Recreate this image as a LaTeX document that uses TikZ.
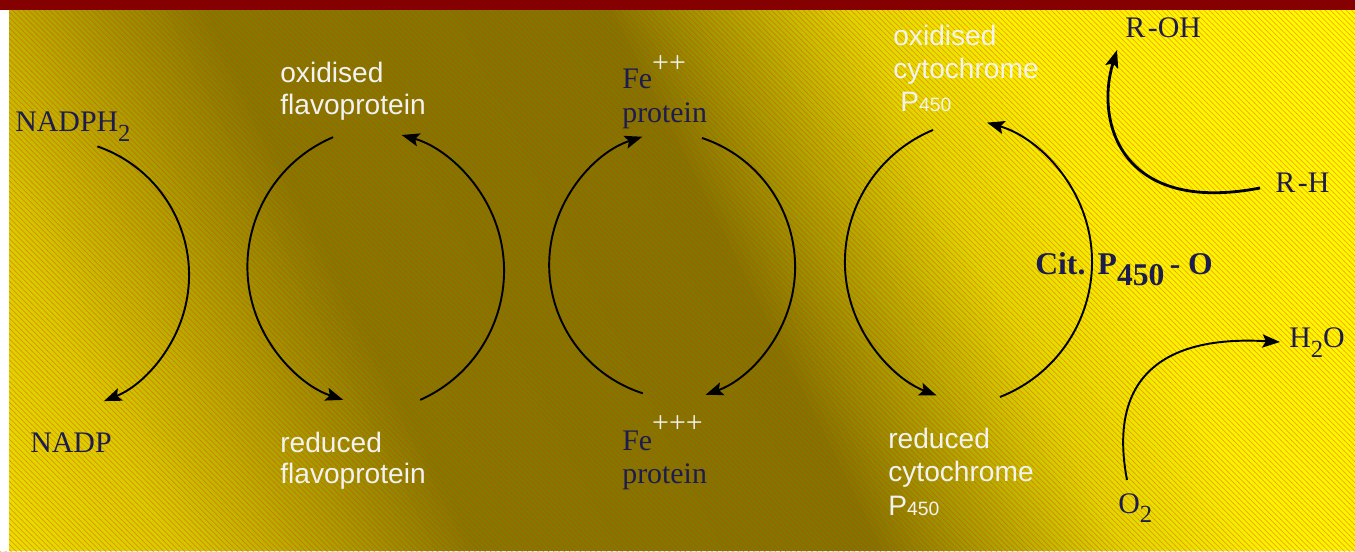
\documentclass[tikz,border=0pt]{standalone}
\usepackage{fontspec}
\setmainfont{Liberation Serif}
\newfontfamily\sansf{Liberation Sans}
\usetikzlibrary{arrows.meta,patterns}
\definecolor{txtnavy}{HTML}{1C1C50}
\definecolor{labwhite}{HTML}{F2F2F2}
\definecolor{barred}{HTML}{850000}
\definecolor{gA}{HTML}{E8E200}
\definecolor{gB}{HTML}{D4CC00}
\definecolor{gC}{HTML}{ACA400}
\definecolor{gD}{HTML}{807C00}
\definecolor{gE}{HTML}{7C7800}
\definecolor{gF}{HTML}{A8A400}
\definecolor{gG}{HTML}{DCD800}
\definecolor{gH}{HTML}{F6F400}
\definecolor{gI}{HTML}{FFFF00}
\newcommand\lowsub[1]{\raisebox{-5.5pt}{\fontsize{14}{14}\selectfont #1}}
\newcommand\smallnum[1]{{\fontsize{11}{11}\selectfont #1}}
\tikzset{
  arr/.style={line width=1.1pt,-{Stealth[length=10pt,width=7.5pt,inset=2pt]}},
  seriflab/.style={font=\fontsize{17}{19.5}\selectfont,text=txtnavy,inner sep=0pt,anchor=base west,align=left},
  sanslab/.style={font=\sansf\fontsize{16}{19}\selectfont,text=labwhite,inner sep=0pt,anchor=base west,align=left},
  boldlab/.style={font=\bfseries\fontsize{18}{20}\selectfont,text=txtnavy,inner sep=0pt,anchor=base west}
}
\begin{document}
\begin{tikzpicture}[x=0.02cm,y=0.02cm]
\useasboundingbox (0,0) rectangle (1355,551);
% background gradient
\begin{scope}
\clip (0,0) rectangle (1355,551);
\foreach \ua/\ub/\ca/\cb in {-280/-100/gA/gB,-100/50/gB/gC,50/200/gC/gD,200/600/gD/gE,600/720/gE/gF,720/850/gF/gG,850/1000/gG/gH,1000/1360/gH/gI}{
  \pgfmathtruncatemacro\nn{max(1,round((\ub-\ua)/8))}
  \pgfmathsetmacro\dd{(\ub-\ua)/\nn}
  \foreach \k in {1,...,\nn}{
    \pgfmathsetmacro\uone{\ua+(\k-1)*\dd}
    \pgfmathsetmacro\utwo{\ua+\k*\dd+1.5}
    \pgfmathsetmacro\p{100*(\k-0.5)/\nn}
    \fill[\cb!\p!\ca] (\uone,551) -- (\uone+275.5,0) -- (\utwo+275.5,0) -- (\utwo,551) -- cycle;
  }
}
\fill[pattern=north west lines,pattern color=red!70!orange,opacity=0.38] (0,0) rectangle (1355,551);
\end{scope}
\fill[white] (0,0) rectangle (9,541);
\fill[barred] (0,541) rectangle (1355,551);

% labels (base = baseline of last line)
\node[seriflab] (nadph) at (15,419) {NADPH\lowsub{2}};
\node[seriflab] (nadp) at (30,98) {NADP};
\node[sanslab] (oxflavo) at (280,436) {oxidised\\[-0.3pt]flavoprotein};
\node[sanslab] (redflavo) at (280,68) {reduced\\[-1.5pt]flavoprotein};
\node[seriflab] (fe2) at (622,428) {Fe\textcolor{labwhite}{\raisebox{9pt}{++}}\\[0.3pt]protein};
\node[seriflab] (fe3) at (622,68) {Fe\textcolor{labwhite}{\raisebox{10pt}{+++}}\\[-0.8pt]protein};
\node[sanslab] (oxcyt) at (893,439) {oxidised\\cytochrome\\\kern4pt P\smallnum{450}};
\node[sanslab] (redcyt) at (888,36) {reduced\\cytochrome\\P\smallnum{450}};
\node[seriflab] (roh) at (1125,513) {R\kern1.5pt-OH};
\node[seriflab] (rh) at (1275,358) {R\kern1.5pt-H};
\node[boldlab] (cit) at (1035,276) {Cit.\kern7pt P\raisebox{-5.7pt}{450}\kern3pt- O};
\node[seriflab] (h2o) at (1289,203) {H\lowsub{2}O};
\node[seriflab] (o2) at (1118,38) {O\lowsub{2}};

% arcs
\coordinate (a1) at (97.3,404.6);
\coordinate (a2) at (333.1,413.8);
\coordinate (a3) at (420.2,151.1);
\coordinate (a4) at (642.8,157.7);
\coordinate (a5) at (702,413);
\coordinate (a6) at (933,421);
\coordinate (a7) at (999.9,154);
\draw[arr] (a1) arc[start angle=71,end angle=-68,radius=136];
\draw[arr] (a2) arc[start angle=113,end angle=251.4,radius=140.6];
\draw[arr] (a3) arc[start angle=-66,end angle=74,radius=141.3];
\draw[arr] (a4) arc[start angle=252.2,end angle=108,radius=134.8];
\draw[arr] (a5) arc[start angle=71.6,end angle=-70,radius=136];
\draw[arr] (a6) arc[start angle=112.6,end angle=249,radius=143];
\draw[arr] (a7) arc[start angle=-68.6,end angle=74,radius=145];

% substrate arrows
\coordinate (rhs) at (1260,363);
\coordinate (rohe) at (1117,501);
\draw[arr,line width=1.6pt] (rhs) .. controls (1120,336) and (1095,430) .. (rohe);
\coordinate (o2s) at (1127,71);
\coordinate (h2oe) at (1280,209);
\draw[arr] (o2s) .. controls (1108,171) and (1160,216) .. (h2oe);
\end{tikzpicture}
\end{document}
